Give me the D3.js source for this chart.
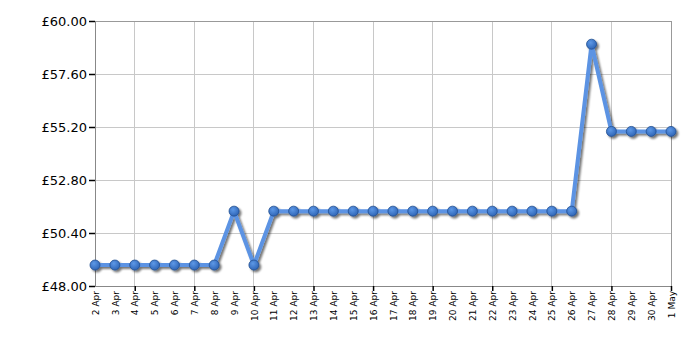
<!DOCTYPE html>
<html>
<head>
<meta charset="utf-8">
<script src="https://d3js.org/d3.v7.min.js"></script>
<style>
  body { margin: 0; background: #fff; }
</style>
</head>
<body>
<div id="chart"></div>
<script>
// Data ----------------------------------------------------------------------->

const days = [
  '2 Apr', '3 Apr', '4 Apr', '5 Apr', '6 Apr', '7 Apr', '8 Apr', '9 Apr',
  '10 Apr', '11 Apr', '12 Apr', '13 Apr', '14 Apr', '15 Apr', '16 Apr',
  '17 Apr', '18 Apr', '19 Apr', '20 Apr', '21 Apr', '22 Apr', '23 Apr',
  '24 Apr', '25 Apr', '26 Apr', '27 Apr', '28 Apr', '29 Apr', '30 Apr', '1 May'
];
const prices = [
  48.95, 48.95, 48.95, 48.95, 48.95, 48.95, 48.95, 51.39,
  48.95, 51.39, 51.39, 51.39, 51.39, 51.39, 51.39,
  51.39, 51.39, 51.39, 51.39, 51.39, 51.39, 51.39,
  51.39, 51.39, 51.39, 58.95, 55.0, 55.0, 55.0, 55.0
];
const y_ticks = [48.0, 50.4, 52.8, 55.2, 57.6, 60.0];
// days that get a vertical gridline
const grid_days = ['4 Apr', '7 Apr', '10 Apr', '13 Apr', '16 Apr', '19 Apr',
  '22 Apr', '25 Apr', '28 Apr', '1 May'];

// Setup ---------------------------------------------------------------------->

const width = 700, height = 350;
const margin = {top: 21, right: 29, bottom: 64, left: 95};

const svg = d3.select('#chart')
  .append('svg')
    .attr('width', width)
    .attr('height', height);

const x = d3.scalePoint()
  .domain(days)
  .range([margin.left, width - margin.right]);
const y = d3.scaleLinear()
  .domain([48, 60])
  .range([height - margin.bottom, margin.top]);

const font = '"DejaVu Sans", Verdana, sans-serif';

// Drop shadow for the line and points
const defs = svg.append('defs');
const shadow = defs.append('filter')
  .attr('id', 'shadow')
  .attr('x', '-20%').attr('y', '-20%')
  .attr('width', '140%').attr('height', '140%');
shadow.append('feGaussianBlur')
  .attr('in', 'SourceAlpha').attr('stdDeviation', 1.2);
shadow.append('feOffset').attr('dx', 2).attr('dy', 2).attr('result', 'off');
shadow.append('feComponentTransfer')
  .append('feFuncA').attr('type', 'linear').attr('slope', 0.55);
const merge = shadow.append('feMerge');
merge.append('feMergeNode');
merge.append('feMergeNode').attr('in', 'SourceGraphic');

const grad = defs.append('radialGradient')
  .attr('id', 'dot')
  .attr('cx', '40%').attr('cy', '35%').attr('r', '65%');
grad.append('stop').attr('offset', '0%').attr('stop-color', '#5d98e6');
grad.append('stop').attr('offset', '100%').attr('stop-color', '#2f66b8');

// Grid ----------------------------------------------------------------------->

const grid = svg.append('g')
  .attr('stroke', '#c8c8c8')
  .attr('stroke-width', 1)
  .attr('shape-rendering', 'crispEdges');

grid.selectAll('.hgrid')
  .data(y_ticks)
  .join('line')
    .attr('x1', margin.left).attr('x2', width - margin.right)
    .attr('y1', d => y(d)).attr('y2', d => y(d));

grid.selectAll('.vgrid')
  .data(grid_days)
  .join('line')
    .attr('x1', d => x(d)).attr('x2', d => x(d))
    .attr('y1', margin.top).attr('y2', height - margin.bottom);

// frame
svg.append('rect')
  .attr('x', margin.left).attr('y', margin.top)
  .attr('width', width - margin.left - margin.right)
  .attr('height', height - margin.top - margin.bottom)
  .attr('fill', 'none')
  .attr('stroke', '#999')
  .attr('shape-rendering', 'crispEdges');

// Axes ----------------------------------------------------------------------->

const y_axis = svg.append('g')
  .attr('transform', `translate(${margin.left},0)`)
  .call(d3.axisLeft(y)
    .tickValues(y_ticks)
    .tickSize(6)
    .tickPadding(2)
    .tickFormat(d => '£' + d3.format('.2f')(d)));
y_axis.select('.domain').attr('stroke', '#888');
y_axis.selectAll('.tick line').attr('stroke', '#000').attr('stroke-width', 1.5);
y_axis.selectAll('text')
  .style('font', '13px ' + font)
  .attr('fill', '#000');

const x_axis = svg.append('g')
  .attr('transform', `translate(0,${height - margin.bottom})`)
  .call(d3.axisBottom(x).tickSize(0).tickPadding(0).tickSizeOuter(0));
x_axis.select('.domain').attr('stroke', '#888');
x_axis.selectAll('.tick text')
  .attr('transform', 'rotate(-90)')
  .attr('x', -5)
  .attr('y', 0)
  .attr('dy', '0.35em')
  .attr('text-anchor', 'end')
  .style('font', '9px ' + font)
  .attr('fill', '#000');
x_axis.selectAll('.tick')
  .filter(d => grid_days.includes(d))
  .append('line')
    .attr('y2', 5)
    .attr('stroke', '#000')
    .attr('stroke-width', 1.5);

// Line and points ------------------------------------------------------------>

const series = svg.append('g').attr('filter', 'url(#shadow)');

series.append('path')
  .datum(prices)
  .attr('fill', 'none')
  .attr('stroke', '#5b93e3')
  .attr('stroke-width', 4)
  .attr('stroke-linejoin', 'round')
  .attr('d', d3.line()
    .x((d, i) => x(days[i]))
    .y(d => y(d)));

series.selectAll('circle')
  .data(prices)
  .join('circle')
    .attr('cx', (d, i) => x(days[i]))
    .attr('cy', d => y(d))
    .attr('r', 5)
    .attr('fill', 'url(#dot)')
    .attr('stroke', '#234f8f')
    .attr('stroke-width', 0.8);
</script>
</body>
</html>
